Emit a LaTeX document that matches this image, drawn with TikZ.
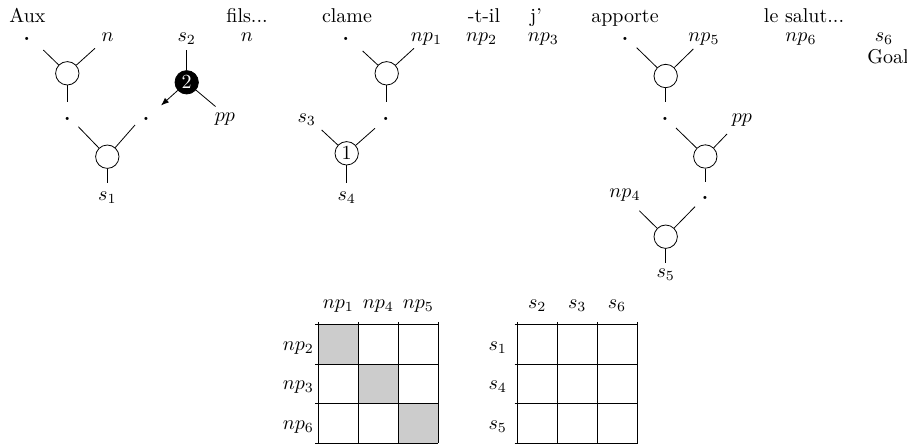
\documentclass[tikz,border=0pt]{standalone}
\usetikzlibrary{arrows.meta}
\begin{document}
\begin{tikzpicture}[x=0.5pt,y=-0.5pt,
  op/.style={circle,draw,minimum size=11.7pt,inner sep=0pt},
  blk/.style={op,fill=black,text=white},
  lbl/.style={anchor=base,inner sep=0pt},
  dotlbl/.style={anchor=base,inner sep=0pt,font=\bfseries},
  cellfill/.style={fill=gray!40},
  gridline/.style={line width=0.5pt}]
\useasboundingbox (0,0) rectangle (907,445);

% ---- top words
\node[lbl] (wAux) at (27.5,22.4) {Aux};
\node[lbl] (wfils) at (247,22.4) {fils...};
\node[lbl] (wclame) at (347,22.4) {clame};
\node[lbl] (wtil) at (484,22.4) {-t-il};
\node[lbl] (wj) at (536,22.4) {j'};
\node[lbl] (wapp) at (625,22.4) {apporte};
\node[lbl] (wsalut) at (804,22.4) {le salut...};

% ---- second row labels
\node[dotlbl] (d1) at (26.7,40.7) {.};
\node[lbl] (ln1) at (107.7,41.7) {$n$};
\node[lbl] (ls2) at (186.7,41.7) {$s_2$};
\node[lbl] (ln2) at (247,41.7) {$n$};
\node[dotlbl] (d4) at (345.7,40.7) {.};
\node[lbl] (lnp1) at (426.5,41.7) {$np_1$};
\node[lbl] (lnp2) at (481.7,41.7) {$np_2$};
\node[lbl] (lnp3) at (543.3,41.7) {$np_3$};
\node[dotlbl] (d6) at (625,40.7) {.};
\node[lbl] (lnp5) at (704,41.7) {$np_5$};
\node[lbl] (lnp6) at (801,41.7) {$np_6$};
\node[lbl] (ls6) at (884,41.7) {$s_6$};
\node[lbl] (goal) at (888,63.4) {Goal};

% ---- tree 1
\node[op] (c1) at (67.3,73.3) {};
\node[op] (c2) at (107.3,156.7) {};
\node[blk] (c0) at (186.7,82.3) {2};
\node[dotlbl] (d2) at (67.3,120.9) {.};
\node[dotlbl] (d3) at (146,120.9) {.};
\node[lbl] (lpp1) at (225,121.7) {$pp$};
\node[lbl] (ls1) at (107.3,200) {$s_1$};
\coordinate (c1a) at (43.3,50);
\coordinate (c1b) at (95,48.3);
\coordinate (c1d) at (67.3,101.7);
\coordinate (c2a) at (78.3,126.7);
\coordinate (c2b) at (135,125);
\coordinate (c2d) at (107.3,183.3);
\coordinate (c0u) at (186.7,50);
\coordinate (c0t) at (161,105.5);
\coordinate (c0r) at (215.5,106.5);
\draw (c1) -- (c1a); \draw (c1) -- (c1b); \draw (c1) -- (c1d);
\draw (c2) -- (c2a); \draw (c2) -- (c2b); \draw (c2) -- (c2d);
\draw (c0) -- (c0u); \draw (c0) -- (c0r);
\draw[-{Latex[length=4pt,width=3pt]}] (c0) -- (c0t);

% ---- tree 2
\node[op] (c3) at (386.7,73.3) {};
\node[op] (c4) at (346.7,153.3) {1};
\node[dotlbl] (d5) at (385.7,120.9) {.};
\node[lbl] (ls3) at (306.7,122.5) {$s_3$};
\node[lbl] (ls4) at (346.7,200) {$s_4$};
\coordinate (c3a) at (362.7,51);
\coordinate (c3b) at (414,48.3);
\coordinate (c3d) at (386.7,101.7);
\coordinate (c4a) at (321.7,130);
\coordinate (c4b) at (375,128.3);
\coordinate (c4d) at (346.7,183.3);
\draw (c3) -- (c3a); \draw (c3) -- (c3b); \draw (c3) -- (c3d);
\draw (c4) -- (c4a); \draw (c4) -- (c4b); \draw (c4) -- (c4d);

% ---- tree 3
\node[op] (c5) at (665.7,76) {};
\node[op] (c6) at (705.3,156.5) {};
\node[op] (c7) at (665.7,236.7) {};
\node[dotlbl] (d7) at (665,120.9) {.};
\node[lbl] (lpp2) at (742,122) {$pp$};
\node[dotlbl] (d8) at (705,199.6) {.};
\node[lbl] (lnp4) at (625,197) {$np_4$};
\node[lbl] (ls5) at (665.7,277.5) {$s_5$};
\coordinate (c5a) at (636.7,47.7);
\coordinate (c5b) at (693.3,49);
\coordinate (c5d) at (665.7,102.3);
\coordinate (c6a) at (676,128);
\coordinate (c6b) at (727,134);
\coordinate (c6d) at (705.3,182);
\coordinate (c7a) at (639.3,210.7);
\coordinate (c7b) at (695,206.7);
\coordinate (c7d) at (665.7,263.3);
\draw (c5) -- (c5a); \draw (c5) -- (c5b); \draw (c5) -- (c5d);
\draw (c6) -- (c6a); \draw (c6) -- (c6b); \draw (c6) -- (c6d);
\draw (c7) -- (c7a); \draw (c7) -- (c7b); \draw (c7) -- (c7d);

% ---- left matrix
\fill[cellfill] (318.3,324.3) rectangle (358.3,364);
\fill[cellfill] (358.3,364) rectangle (398.3,403.7);
\fill[cellfill] (398.3,403.7) rectangle (438.3,443.4);
\foreach \y in {324.3,364,403.7,443.4} \draw[gridline] (315.3,\y) -- (438.3,\y);
\foreach \x in {318.3,358.3,398.3,438.3} \draw[gridline] (\x,321.8) -- (\x,443.4);
\node[lbl] (hnp1) at (338.3,308.3) {$np_1$};
\node[lbl] (hnp4) at (378.3,308.3) {$np_4$};
\node[lbl] (hnp5) at (418.3,308.3) {$np_5$};
\node[lbl] (rnp2) at (298.3,350) {$np_2$};
\node[lbl] (rnp3) at (298.3,389.7) {$np_3$};
\node[lbl] (rnp6) at (298.3,429.4) {$np_6$};

% ---- right matrix
\foreach \y in {324.3,364,403.7,443.4} \draw[gridline] (514.7,\y) -- (637.7,\y);
\foreach \x in {517.7,557.7,597.7,637.7} \draw[gridline] (\x,321.8) -- (\x,443.4);
\node[lbl] (hs2) at (537.2,308.3) {$s_2$};
\node[lbl] (hs3) at (577.2,308.3) {$s_3$};
\node[lbl] (hs6) at (617,308.3) {$s_6$};
\node[lbl] (rs1) at (497.7,350) {$s_1$};
\node[lbl] (rs4) at (497.7,389.7) {$s_4$};
\node[lbl] (rs5) at (497.7,429.4) {$s_5$};
\end{tikzpicture}
\end{document}
